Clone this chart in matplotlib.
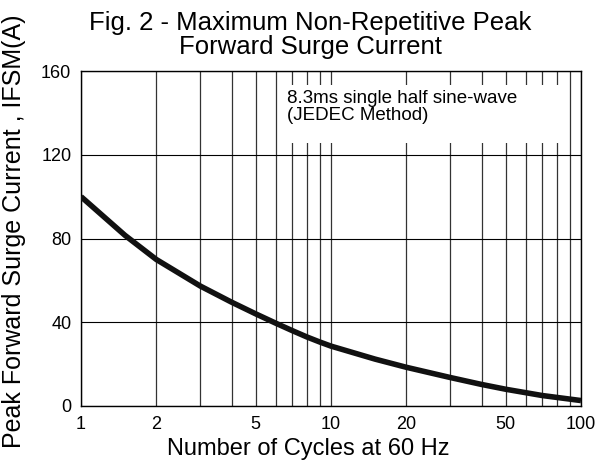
import matplotlib
matplotlib.use("Agg")
import matplotlib.pyplot as plt
from matplotlib.patches import Rectangle
from matplotlib.ticker import FixedLocator, NullFormatter

plt.rcParams['font.family'] = ['Liberation Sans', 'DejaVu Sans']

# datos
ciclos = [1, 1.5, 2, 3, 4, 5, 6, 7, 8, 9, 10, 15, 20, 30, 40, 50, 70, 100]
corriente = [100, 81.5, 70, 57.3, 49.6, 44.0, 39.6, 36.0, 33.0, 30.6, 28.6,
             22.4, 18.5, 13.6, 10.3, 8.0, 5.0, 2.6]

xticks = [1, 2, 5, 10, 20, 50, 100]
xticklabels = ["1", "2", "5", "10", "20", "50", "100"]
yticks = [0, 40, 80, 120, 160]
menores = [2, 3, 4, 5, 6, 7, 8, 9, 20, 30, 40, 50, 60, 70, 80, 90]

fig = plt.figure(figsize=(6.11, 4.68), dpi=100)
ax = fig.add_axes([81/611, 62/468, 500/611, 335/468])

ax.plot(ciclos, corriente, color='#111111', lw=4, solid_joinstyle='round',
        solid_capstyle='butt', zorder=3)

ax.set_xscale('log')
ax.set_xlim(1, 100)
ax.set_ylim(0, 160)
ax.set_xticks(xticks)
ax.set_xticklabels(xticklabels)
ax.xaxis.set_minor_locator(FixedLocator(menores))
ax.xaxis.set_minor_formatter(NullFormatter())
ax.set_yticks(yticks)

ax.tick_params(axis='both', which='both', length=0, labelsize=13)
ax.tick_params(axis='x', pad=7)
ax.tick_params(axis='y', pad=7)

ax.set_axisbelow(True)
ax.grid(True, which='both', axis='x', color='#333333', lw=0.9)
ax.grid(True, which='major', axis='y', color='black', lw=0.8)
for s in ax.spines.values():
    s.set_linewidth(1.0)
    s.set_color('black')

# cuadro blanco para la nota
ax.add_patch(Rectangle((0.404, 0.785), 0.564, 0.173, transform=ax.transAxes,
                       facecolor='white', edgecolor='none', zorder=1))
ax.text(0.412, 0.8925, "8.3ms single half sine-wave\n(JEDEC Method)",
        transform=ax.transAxes, ha='left', va='center', fontsize=13.5,
        linespacing=1.05, zorder=4)

fig.text(310/611, 1 - 35/468, "Fig. 2 - Maximum Non-Repetitive Peak\nForward Surge Current",
         ha='center', va='center', fontsize=18.5, linespacing=1.0)
fig.text(308/611, 1 - 449/468, "Number of Cycles at 60 Hz", ha='center', va='center', fontsize=17)
fig.text(14/611, 0.505, "Peak Forward Surge Current , IFSM(A)", rotation=90,
         ha='center', va='center', fontsize=18)

fig.savefig("out.png", dpi=100)
